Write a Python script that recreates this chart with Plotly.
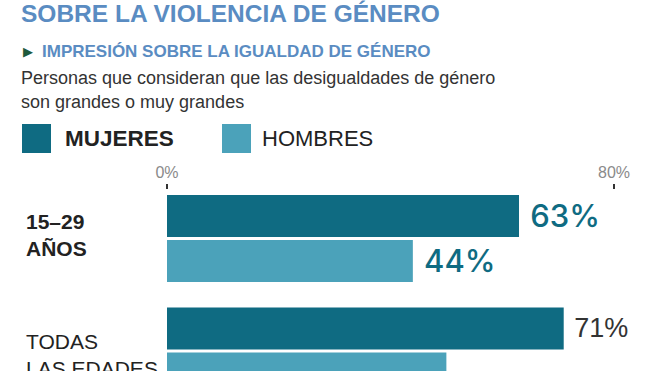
import plotly.graph_objects as go

# ---- data ----
categories = ["15–29 AÑOS", "TODAS LAS EDADES"]
category_labels = ["<b>15–29<br>AÑOS</b>", "TODAS<br>LAS EDADES"]
series_names = ["MUJERES", "HOMBRES"]
mujeres = [63, 71]
hombres = [44, 50]
tick_vals = [0, 80]
tick_text = ["0%", "80%"]

title = "SOBRE LA VIOLENCIA DE GÉNERO"
subtitle = "IMPRESIÓN SOBRE LA IGUALDAD DE GÉNERO"
description = ["Personas que consideran que las desigualdades de género",
               "son grandes o muy grandes"]

# ---- styles ----
W, H = 660, 371
L, R, T, B = 167, 0, 190, 0
PW, PH = W - L - R, H - T - B
C_MUJ = "#0f6b82"
C_HOM = "#4ba2ba"
C_TITLE = "#5a8cc2"
FONT = "Liberation Sans, Arial, sans-serif"


def px(x):
    return (x - L) / PW


def py(y):
    return 1 - (y - T) / PH


fig = go.Figure()

value_font = dict(size=[31, 27], color=[C_MUJ, "#333333"],
                  family=["Inter, Liberation Sans, sans-serif", FONT],
                  weight=[500, 400])

fig.add_trace(go.Bar(
    name=series_names[0], y=categories, x=mujeres, orientation="h",
    marker=dict(color=C_MUJ, line=dict(width=0)),
    text=["\u00a0" + f"{v}%" for v in mujeres], textposition="outside",
    textfont=value_font, cliponaxis=False, constraintext="none",
))
fig.add_trace(go.Bar(
    name=series_names[1], y=categories, x=hombres, orientation="h",
    marker=dict(color=C_HOM, line=dict(width=0)),
    text=["\u00a0" + f"{v}%" for v in hombres], textposition="outside",
    textfont=value_font, cliponaxis=False, constraintext="none",
))

annotations = []
# title
annotations.append(dict(text=f"<b>{title}</b>", x=px(19), y=py(13), xref="paper", yref="paper",
                        xanchor="left", yanchor="middle", showarrow=False,
                        font=dict(size=24.5, color=C_TITLE, family=FONT)))
annotations.append(dict(text="▶", x=px(21), y=py(51), xref="paper", yref="paper",
                        xanchor="left", yanchor="middle", showarrow=False,
                        font=dict(size=13, color="#1f5a3c", family="DejaVu Sans")))
annotations.append(dict(text=f"<b>{subtitle}</b>", x=px(40), y=py(51), xref="paper", yref="paper",
                        xanchor="left", yanchor="middle", showarrow=False,
                        font=dict(size=17, color=C_TITLE, family=FONT)))
for i, line in enumerate(description):
    annotations.append(dict(text=line, x=px(19), y=py(78 + 24 * i), xref="paper", yref="paper",
                            xanchor="left", yanchor="middle", showarrow=False,
                            font=dict(size=18, color="#333333", family=FONT)))
# legend
legend_x = [22, 222]
for i, (name, col) in enumerate(zip(series_names, [C_MUJ, C_HOM])):
    x0 = legend_x[i]
    fig.add_shape(type="rect", xref="paper", yref="paper",
                  x0=px(x0), x1=px(x0 + 29), y0=py(153), y1=py(124),
                  fillcolor=col, line=dict(width=0))
    txt = f"<b>{name}</b>" if i == 0 else name
    annotations.append(dict(text=txt, x=px(x0 + (41 if i == 0 else 38)), y=py(138),
                            xref="paper", yref="paper",
                            xanchor="left", yanchor="middle", showarrow=False,
                            font=dict(size=22.5 if i == 0 else 22, color="#222222", family=FONT)))
# category labels
shifts = [3, -4]
for cat, lab, s in zip(categories, category_labels, shifts):
    annotations.append(dict(text=lab, x=px(24), y=cat, xref="paper", yref="y",
                            xanchor="left", yanchor="middle", align="left", showarrow=False,
                            yshift=s, font=dict(size=21, color="#222222", family=FONT)))

fig.update_layout(
    width=W, height=H,
    margin=dict(l=L, r=R, t=T, b=B, pad=0),
    paper_bgcolor="white", plot_bgcolor="white",
    barmode="group", bargap=0.2, bargroupgap=0.07,
    showlegend=False,
    annotations=annotations,
    font=dict(family=FONT),
    xaxis=dict(range=[0, PW / 5.5875], side="top", tickvals=tick_vals, ticktext=tick_text,
               ticks="outside", ticklen=5, tickwidth=1.5, tickcolor="#333333",
               tickfont=dict(size=16, color="#8a8a8a", family=FONT),
               showgrid=False, zeroline=False, showline=False, fixedrange=True),
    yaxis=dict(range=[1.178, -0.431], showticklabels=False, showgrid=False,
               zeroline=False, showline=False, ticks="", fixedrange=True),
)

fig.write_html("out.html", config={"displayModeBar": False},
               post_script="document.body.style.margin='0';document.body.style.overflow='hidden';")
